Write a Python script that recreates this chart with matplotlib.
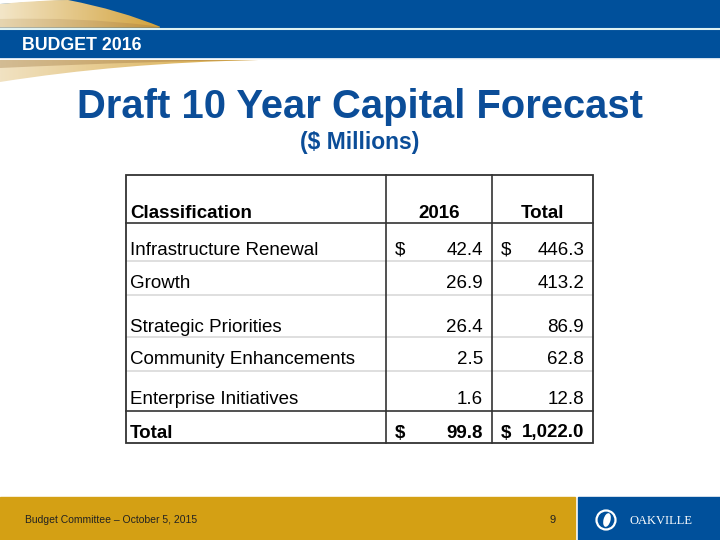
import numpy as np
import matplotlib
matplotlib.use('Agg')
import matplotlib.pyplot as plt
from matplotlib.path import Path
from matplotlib.patches import PathPatch, Rectangle, Circle, Ellipse
from matplotlib.colors import LinearSegmentedColormap

plt.rcParams['font.family'] = ['Liberation Sans', 'DejaVu Sans']

# Table data ($ millions)
categories = ['Infrastructure Renewal', 'Growth', 'Strategic Priorities',
              'Community Enhancements', 'Enterprise Initiatives']
values_2016 = [42.4, 26.9, 26.4, 2.5, 1.6]
values_total = [446.3, 413.2, 86.9, 62.8, 12.8]
sum_2016 = 99.8
sum_total = 1022.0
columns = ['Classification', '2016', 'Total']

BLUE = '#00509b'
GOLD = '#d4a014'
TITLE_BLUE = '#0b4d98'

fig = plt.figure(figsize=(7.2, 5.4), dpi=100)
ax = fig.add_axes([0, 0, 1, 1])


def swoosh(verts, codes, c0, c1, x0, x1, z=3):
    patch = PathPatch(Path(verts, codes), fc='none', ec='none')
    ax.add_patch(patch)
    cmap = LinearSegmentedColormap.from_list('sw', [c0, c1])
    grad = np.linspace(0, 1, 256).reshape(1, -1)
    im = ax.imshow(grad, cmap=cmap, extent=(x0, x1, 100, 0), aspect='auto', zorder=z)
    im.set_clip_path(patch)


# --- header band ---
ax.add_patch(Rectangle((0, 0), 720, 58, color=BLUE, zorder=1))
ax.plot([0, 720], [28.5, 28.5], color='#dff2f2', lw=1.5, zorder=5)

C3, M, L, CL = Path.CURVE3, Path.MOVETO, Path.LINETO, Path.CLOSEPOLY
# white sliver + gold swoosh on top
ax.add_patch(PathPatch(Path([(0, 0), (70, 0), (70, 0), (0, 4), (0, 0)],
                            [M, L, L, L, CL]), fc='white', ec='none', zorder=2))
swoosh([(0, 4), (40, 0), (68, 0), (120, 10), (162, 27.5), (0, 27.5), (0, 4)],
       [M, C3, C3, C3, C3, L, CL], '#f3e6c8', '#d2a23c', 0, 160)
swoosh([(0, 19), (80, 17), (150, 25.5), (160, 27.5), (0, 27.5), (0, 19)],
       [M, C3, C3, L, L, CL], '#e6d5b0', '#c0903a', 0, 160, z=4)
# gold swoosh below the band
ax.plot([0, 720], [58.8, 58.8], color='white', lw=1.2, zorder=5)
swoosh([(0, 60), (258, 60), (120, 63), (0, 82), (0, 60)],
       [M, L, C3, C3, CL], '#f1e2c2', '#d6a63e', 0, 258)
swoosh([(0, 60), (258, 60), (150, 61), (0, 68), (0, 60)],
       [M, L, C3, C3, CL], '#d3bc94', '#bf8f3c', 0, 258, z=4)

ax.text(22, 50, 'BUDGET 2016', color='white', fontsize=12.8, fontweight='bold',
        va='baseline', ha='left', zorder=6)

# --- title ---
ax.text(360, 118, 'Draft 10 Year Capital Forecast', color=TITLE_BLUE, fontsize=28.8,
        fontweight='bold', ha='center', va='baseline')
ax.text(359.5, 149, '($ Millions)', color=TITLE_BLUE, fontsize=16.5,
        fontweight='bold', ha='center', va='baseline')

# --- table ---
left, right, top, bottom = 126, 593, 175, 443
col1, col2 = 386, 492
light_rows = [261, 294.5, 337, 371]
for y in light_rows:
    ax.plot([left, right], [y, y], color='#d9d9d9', lw=1.2, zorder=2)
for y in [222.5, 411]:
    ax.plot([left, right], [y, y], color='#333333', lw=1.2, zorder=3)
for x in [col1, col2]:
    ax.plot([x, x], [top, bottom], color='#333333', lw=1.2, zorder=3)
ax.add_patch(Rectangle((left, top), right - left, bottom - top, fc='none',
                       ec='#333333', lw=1.3, zorder=3))

fs = 13.5
ax.text(130, 217.5, columns[0], fontsize=fs, fontweight='bold', va='baseline')
ax.text((col1 + col2) / 2, 217.5, columns[1], fontsize=fs, fontweight='bold',
        va='baseline', ha='center')
ax.text((col2 + right) / 2, 217.5, columns[2], fontsize=fs, fontweight='bold',
        va='baseline', ha='center')

baselines = [255, 288.5, 331.5, 364.5, 404]
for i, (cat, v1, v2) in enumerate(zip(categories, values_2016, values_total)):
    yb = baselines[i]
    ax.text(130, yb, cat, fontsize=fs, va='baseline')
    ax.text(483, yb, f'{v1:.1f}', fontsize=fs, va='baseline', ha='right')
    ax.text(584, yb, f'{v2:,.1f}', fontsize=fs, va='baseline', ha='right')
    if i == 0:
        ax.text(395, yb, '$', fontsize=fs, va='baseline')
        ax.text(501, yb, '$', fontsize=fs, va='baseline')

yt = 437.5
ax.text(130, yt, 'Total', fontsize=fs, fontweight='bold', va='baseline')
ax.text(395, yt, '$', fontsize=fs, fontweight='bold', va='baseline')
ax.text(483, yt, f'{sum_2016:.1f}', fontsize=fs, fontweight='bold', va='baseline', ha='right')
ax.text(501, yt, '$', fontsize=fs, fontweight='bold', va='baseline')
ax.text(584, yt, f'{sum_total:,.1f}', fontsize=fs, fontweight='bold', va='baseline', ha='right')

# --- footer ---
ax.add_patch(Rectangle((0, 497), 575, 43, color=GOLD, zorder=1))
ax.add_patch(Rectangle((578, 497), 142, 43, color=BLUE, zorder=1))
ax.text(25, 523, 'Budget Committee \u2013 October 5, 2015', fontsize=7.5,
        color='#222222', va='baseline')
ax.text(553, 523, '9', fontsize=8, color='#222222', va='baseline', ha='center')
ax.add_patch(Circle((606, 520), 9.5, fc='none', ec='white', lw=1.6, zorder=3))
ax.add_patch(Ellipse((607, 520), 7, 14, angle=15, fc='white', ec='none', zorder=3))
ax.text(629, 524.5, 'OAKVILLE', fontsize=9, color='white', va='baseline',
        family='Liberation Serif')

ax.set_xlim(0, 720)
ax.set_ylim(540, 0)
ax.axis('off')
fig.savefig('out.png', dpi=100, facecolor='white')
